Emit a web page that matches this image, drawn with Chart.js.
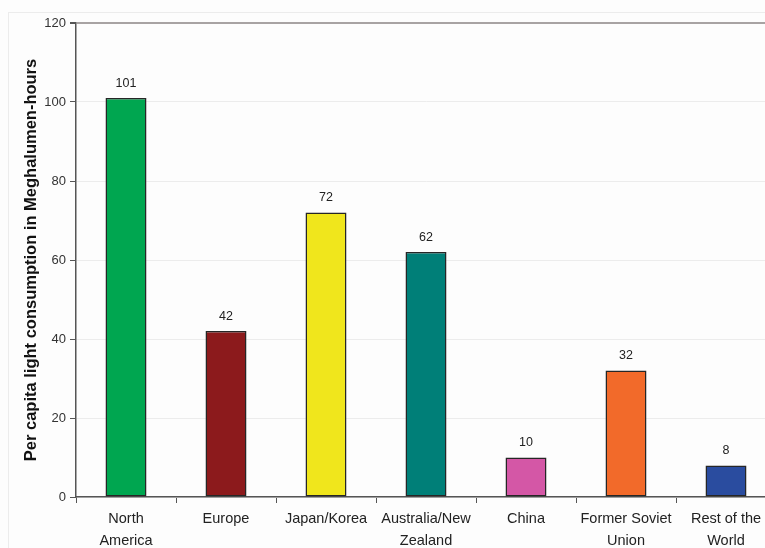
<!DOCTYPE html>
<html>
<head>
<meta charset="utf-8">
<script src="https://cdn.jsdelivr.net/npm/chart.js@4/dist/chart.umd.min.js"></script>
<style>
html,body{margin:0;padding:0;background:#fff;overflow:hidden;width:765px;height:548px;}
#wrap{position:absolute;left:0;top:0;width:800px;height:548px;}
</style>
</head>
<body>
<div id="wrap"><canvas id="c" width="800" height="548"></canvas></div>
<script>
const categories = [["North","America"],"Europe","Japan/Korea",["Australia/New","Zealand"],"China",["Former Soviet","Union"],["Rest of the","World"]];
const values = [101, 42, 72, 62, 10, 32, 8];
const barColors = ["#00a650","#8c1a1c","#f0e61c","#007f78","#d457a6","#f26a2a","#2a4c9f"];
const yTicks = [0, 20, 40, 60, 80, 100, 120];
const yTitle = "Per capita light consumption in Meghalumen-hours";

const labelPlugin = {
  id: 'valueLabels',
  beforeDraw(chart) {
    const ctx = chart.ctx;
    ctx.save();
    ctx.fillStyle = '#fdfdfd';
    ctx.fillRect(0,0,chart.width,chart.height);
    ctx.strokeStyle = '#ececec';
    ctx.lineWidth = 1;
    ctx.strokeRect(8.5, 12.5, chart.width, chart.height);
    ctx.restore();
  },
  afterDatasetsDraw(chart) {
    const ctx = chart.ctx;
    const meta = chart.getDatasetMeta(0);
    ctx.save();
    ctx.font = '12.5px "Liberation Sans", Arial, sans-serif';
    ctx.fillStyle = '#222';
    ctx.textAlign = 'center';
    ctx.textBaseline = 'middle';
    meta.data.forEach((bar, i) => {
      ctx.fillText(String(values[i]), bar.x, bar.y - 15);
    });
    ctx.restore();
  }
};

new Chart(document.getElementById('c'), {
  type: 'bar',
  data: {
    labels: categories,
    datasets: [{
      data: values,
      backgroundColor: barColors,
      borderColor: '#262626',
      borderWidth: 1.5,
      borderSkipped: false,
      barPercentage: 0.41,
      categoryPercentage: 1.0
    }]
  },
  options: {
    responsive: false,
    animation: false,
    layout: { padding: { left: 0, right: 24, top: 23, bottom: 0 } },
    plugins: { legend: { display: false }, tooltip: { enabled: false } },
    scales: {
      x: {
        grid: { offset: true, drawOnChartArea: false, tickLength: 6, tickColor: '#555', color: '#555' },
        border: { color: '#555', width: 1.5 },
        ticks: { color: '#222', font: { family: '"Liberation Sans", Arial, sans-serif', size: 14.5, lineHeight: 1.5 }, padding: 5, maxRotation: 0, autoSkip: false },
        afterFit(s) { s.height = 51; }
      },
      y: {
        min: 0, max: 120,
        afterBuildTicks(s) { s.ticks = yTicks.map(v => ({ value: v })); },
        grid: {
          color: (c) => c.tick && c.tick.value === 120 ? '#a8a3a3' : '#ececec',
          lineWidth: (c) => c.tick && c.tick.value === 120 ? 2 : 1,
          tickLength: 6, tickColor: '#555'
        },
        border: { color: '#555', width: 1.5 },
        ticks: { color: '#333', font: { family: '"Liberation Sans", Arial, sans-serif', size: 13 }, padding: 4 },
        title: { display: true, text: yTitle, color: '#111', font: { family: '"Liberation Sans", Arial, sans-serif', size: 16.5, weight: 'bold' }, padding: { top: 22, bottom: 0 } },
        afterFit(s) { s.width = 76; }
      }
    }
  },
  plugins: [labelPlugin]
});
</script>
</body>
</html>
